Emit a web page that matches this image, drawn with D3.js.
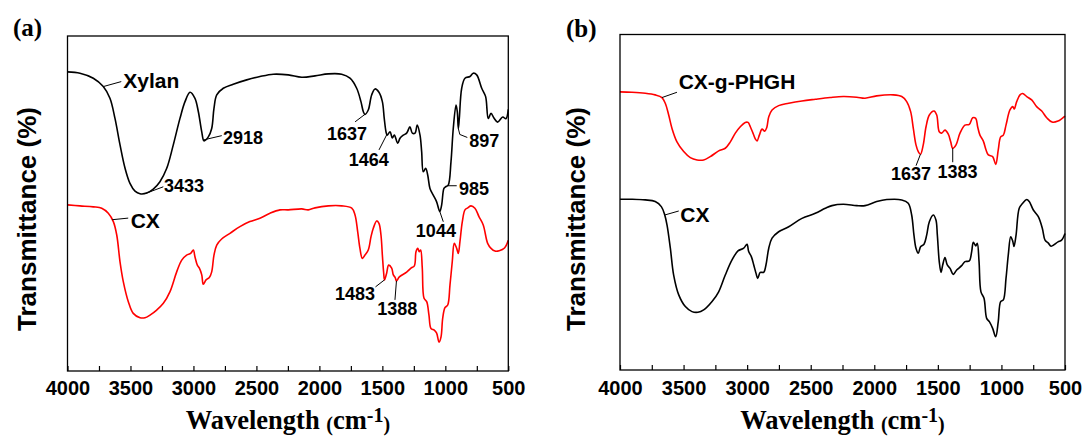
<!DOCTYPE html>
<html>
<head>
<meta charset="utf-8">
<script src="https://cdn.jsdelivr.net/npm/d3@7"></script>
<style>
  html, body { margin: 0; padding: 0; background: #fff; }
  svg { display: block; }
</style>
</head>
<body>
<svg id="chart" width="1085" height="437"></svg>
<script>
// FTIR spectra: [wavenumber (cm-1), transmittance (a.u., offset for stacking)]
const xylanA = [[4000,89.3],[3901,88.9],[3795,87.4],[3716,84.9],[3663,81.4],[3623,75.4],[3583,67.5],[3543,60.5],[3504,56.0],[3464,53.7],[3424,52.9],[3371,53.1],[3319,54.3],[3266,56.5],[3212,60.5],[3160,67.5],[3107,75.4],[3067,80.4],[3027,83.2],[2988,81.4],[2961,77.4],[2934,71.4],[2916,68.7],[2882,69.9],[2855,72.4],[2837,78.4],[2815,82.4],[2763,84.4],[2684,85.6],[2577,86.9],[2472,87.9],[2366,88.6],[2247,88.4],[2140,87.7],[2035,88.1],[1929,88.7],[1823,88.6],[1757,87.4],[1704,84.4],[1670,80.4],[1651,77.4],[1638,76.6],[1612,77.9],[1585,82.4],[1558,84.2],[1527,83.2],[1500,80.4],[1485,75.4],[1471,71.4],[1462,70.4],[1439,71.4],[1421,69.6],[1405,70.4],[1378,68.0],[1360,69.5],[1334,70.4],[1307,71.0],[1281,72.9],[1262,71.0],[1241,71.0],[1223,73.4],[1201,70.4],[1188,65.5],[1175,59.5],[1156,60.5],[1140,58.5],[1122,54.5],[1096,52.5],[1069,50.5],[1044,47.6],[1029,49.6],[1011,54.5],[997,55.0],[977,55.5],[955,62.5],[937,72.4],[915,79.4],[905,77.4],[897,72.4],[889,75.4],[870,84.4],[844,87.4],[804,87.9],[778,88.9],[751,88.4],[711,84.4],[680,81.9],[659,75.4],[637,76.9],[614,75.5],[585,74.3],[544,75.8],[519,75.3],[500,78.1]];

const cxA = [[4000,49.6],[3901,49.3],[3795,49.0],[3728,48.6],[3676,47.1],[3636,44.6],[3609,40.6],[3583,32.6],[3557,26.7],[3517,20.7],[3478,17.2],[3424,15.9],[3385,15.9],[3345,16.7],[3292,18.2],[3239,20.2],[3186,23.7],[3133,29.6],[3093,33.1],[3054,34.6],[3022,35.1],[3001,36.1],[2988,34.1],[2969,31.6],[2953,30.7],[2934,28.7],[2922,25.9],[2900,27.2],[2874,27.9],[2855,29.6],[2837,34.6],[2815,37.6],[2776,39.4],[2710,41.1],[2631,43.1],[2552,44.6],[2472,45.6],[2392,47.1],[2313,48.1],[2247,48.1],[2140,48.4],[2088,48.1],[2035,48.7],[1929,49.3],[1823,49.3],[1743,48.6],[1717,46.6],[1696,41.6],[1678,36.6],[1659,33.6],[1638,34.6],[1612,36.1],[1590,40.1],[1572,42.6],[1545,44.8],[1527,44.1],[1511,40.6],[1500,34.6],[1490,29.5],[1483,27.2],[1466,29.2],[1450,31.6],[1426,30.7],[1413,28.7],[1398,27.9],[1388,26.9],[1365,28.1],[1307,29.5],[1273,30.7],[1246,31.4],[1233,35.6],[1219,36.6],[1207,35.6],[1196,36.1],[1183,30.7],[1169,21.7],[1148,20.7],[1130,16.7],[1114,12.7],[1088,12.2],[1069,11.3],[1050,8.6],[1034,10.2],[1021,15.7],[1003,18.9],[981,19.7],[963,25.7],[945,32.6],[929,38.1],[910,36.6],[897,35.1],[884,38.6],[865,44.6],[844,48.1],[822,48.7],[796,49.3],[765,48.6],[733,46.1],[699,43.6],[664,38.1],[637,36.6],[606,35.8],[572,35.9],[530,36.7],[500,39.0]];

const cxgB = [[4000,82.9],[3906,82.8],[3801,82.5],[3723,82.0],[3670,81.2],[3644,79.5],[3617,76.0],[3591,72.0],[3552,68.0],[3499,65.1],[3447,63.3],[3394,62.6],[3342,62.6],[3290,63.6],[3224,65.3],[3172,66.1],[3132,68.0],[3093,70.6],[3054,72.5],[3015,73.8],[2993,73.8],[2975,72.5],[2954,70.6],[2936,68.9],[2922,68.3],[2904,70.0],[2883,71.8],[2862,71.2],[2846,72.2],[2830,75.5],[2804,77.5],[2752,78.8],[2673,79.5],[2569,80.2],[2464,80.7],[2348,81.2],[2244,81.5],[2138,81.3],[2073,81.0],[1981,81.7],[1850,82.0],[1784,81.5],[1745,80.0],[1714,77.0],[1693,72.0],[1672,67.1],[1654,65.1],[1637,64.3],[1615,67.1],[1593,72.5],[1567,76.0],[1530,77.2],[1509,76.0],[1489,71.0],[1470,70.6],[1444,71.5],[1418,70.3],[1399,68.0],[1383,66.1],[1357,67.1],[1326,70.6],[1287,73.0],[1253,73.2],[1226,75.2],[1202,75.0],[1187,72.5],[1169,70.0],[1143,68.3],[1121,65.6],[1103,64.1],[1069,63.6],[1045,61.3],[1025,65.6],[1006,69.5],[985,70.0],[964,73.0],[933,77.5],[911,78.5],[899,77.8],[880,80.0],[854,82.0],[833,82.4],[801,81.5],[762,80.5],[723,78.5],[683,77.2],[642,75.1],[602,73.9],[555,74.2],[500,75.7]];

const cxB = [[4000,50.9],[3906,50.9],[3801,50.7],[3723,50.2],[3675,48.7],[3648,46.2],[3630,43.2],[3604,36.3],[3578,28.3],[3538,22.4],[3486,18.9],[3434,17.4],[3387,17.2],[3342,17.9],[3276,20.4],[3224,23.3],[3172,28.3],[3119,32.8],[3072,35.5],[3027,36.3],[3001,37.5],[2988,35.3],[2967,33.8],[2948,31.3],[2930,28.8],[2917,27.3],[2897,29.1],[2870,29.1],[2852,31.3],[2830,36.3],[2804,39.3],[2752,41.2],[2673,42.7],[2569,45.2],[2464,46.7],[2385,48.2],[2333,49.0],[2244,49.4],[2138,49.0],[2073,49.0],[1981,50.2],[1902,50.8],[1784,50.7],[1733,49.7],[1706,46.2],[1688,40.2],[1672,36.3],[1654,34.8],[1635,36.8],[1609,37.5],[1588,40.2],[1567,44.2],[1536,46.2],[1515,44.7],[1504,40.2],[1489,32.3],[1475,29.1],[1462,31.3],[1444,33.5],[1426,31.3],[1404,30.3],[1379,28.5],[1352,29.8],[1313,31.1],[1287,32.3],[1253,32.5],[1234,35.3],[1221,38.1],[1202,37.0],[1190,37.8],[1176,32.3],[1161,23.3],[1137,21.4],[1116,15.4],[1095,14.4],[1069,12.4],[1045,9.9],[1025,14.4],[1006,20.4],[985,20.9],[964,27.3],[946,34.3],[927,39.7],[911,38.4],[901,36.8],[885,40.2],[860,48.2],[833,49.7],[801,50.8],[781,50.2],[749,47.7],[710,45.7],[678,42.2],[657,38.7],[631,37.8],[609,36.9],[555,38.2],[527,38.7],[500,40.7]];

// Axis ticks (major ones are labelled)
const wnTicks = [4000, 3750, 3500, 3250, 3000, 2750, 2500, 2250, 2000, 1750, 1500, 1250, 1000, 750, 500];
const wnDomain = [4000, 500];
const tDomain = [0, 100];

// Series names and band assignments (text, series, wavenumber)
const namesA = [["Xylan", "xylan", 3716], ["CX", "cx", 3645]];
const bandsA = [["3433", "xylan", 3433], ["2918", "xylan", 2918], ["1637", "xylan", 1637], ["1464", "xylan", 1464],
                ["1044", "xylan", 1044], ["985", "xylan", 985], ["897", "xylan", 897],
                ["1483", "cx", 1483], ["1388", "cx", 1388]];
const namesB = [["CX-g-PHGH", "cxg", 3670], ["CX", "cx", 3648]];
const bandsB = [["1637", "cxg", 1637], ["1383", "cxg", 1383]];

// Leader-line geometry and text placement for each label (pixel offsets from the curve point)
const leaderStyle = {
  "a:Xylan": { path: [[0,0],[18,-5]], t: [20,1.4], anchor: "start" },
  "a:CX":    { path: [[0,0],[16,-1.6]], t: [18.5,8.4], anchor: "start" },
  "a:3433":  { path: [[6,0.5],[24.4,-6.4]], t: [25,-0.8], anchor: "start" },
  "a:2918":  { path: [[0,0],[18,-4.2]], t: [19.2,4.1], anchor: "start" },
  "a:1637":  { path: [[0,0],[-10,7.6]], t: [-18,25.6], anchor: "middle" },
  "a:1464":  { path: [[0,0],[-7.9,15.5]], t: [-18.2,31.2], anchor: "middle" },
  "a:1044":  { path: [[0,0],[3.5,10.2]], t: [-3.9,25.2], anchor: "middle" },
  "a:985":   { path: [[0,0],[9.5,0]], t: [11.8,9.3], anchor: "start" },
  "a:897":   { path: [[0,0],[1.5,6],[9,9]], t: [11,18.5], anchor: "start" },
  "a:1483":  { path: [[0,0],[-9,7]], t: [-9.5,19.7], anchor: "end" },
  "a:1388":  { path: [[0,0],[-1.5,19]], t: [0.7,34], anchor: "middle" },
  "b:CX-g-PHGH": { path: [[0,0],[15,-5.3]], t: [16.7,-8.6], anchor: "start" },
  "b:CX":    { path: [[0,0],[14,-4]], t: [15.5,7.3], anchor: "start" },
  "b:1637":  { path: [[0,0],[-4.4,11.4]], t: [-9.5,25.7], anchor: "middle" },
  "b:1383":  { path: [[0,0],[0,14]], t: [4.8,29.5], anchor: "middle" }
};

const panels = [
  { id: "a", tag: "(a)", tagX: 13, tagY: 36, left: 67.5, right: 508.3, top: 36, bottom: 371, yTitleX: 36,
    series: { xylan: { data: xylanA, color: "#000000" }, cx: { data: cxA, color: "#ff0000" } },
    names: namesA, bands: bandsA },
  { id: "b", tag: "(b)", tagX: 566, tagY: 37, left: 620, right: 1065, top: 34.5, bottom: 370, yTitleX: 585,
    series: { cxg: { data: cxgB, color: "#ff0000" }, cx: { data: cxB, color: "#000000" } },
    names: namesB, bands: bandsB }
];

const SANS = "'Liberation Sans', Arial, Helvetica, sans-serif";
const SERIF = "'Liberation Serif', 'Times New Roman', Times, serif";

const svg = d3.select("#chart");

// Linear interpolation of a descending-wavenumber series
function valueAt(data, wn) {
  for (let i = 0; i < data.length - 1; i++) {
    const a = data[i], b = data[i + 1];
    if (wn <= a[0] && wn >= b[0]) {
      const t = (a[0] - wn) / (a[0] - b[0]);
      return a[1] + t * (b[1] - a[1]);
    }
  }
  return data[data.length - 1][1];
}

panels.forEach(p => {
  const x = d3.scaleLinear().domain(wnDomain).range([p.left, p.right]);
  const y = d3.scaleLinear().domain(tDomain).range([p.bottom, p.top]);
  const g = svg.append("g");

  // spectra
  const line = d3.line()
    .x(d => x(d[0]))
    .y(d => y(d[1]))
    .curve(d3.curveCatmullRom.alpha(0.5));

  Object.values(p.series).forEach(s => {
    g.append("path")
      .datum(s.data)
      .attr("fill", "none")
      .attr("stroke", s.color)
      .attr("stroke-width", 1.6)
      .attr("stroke-linejoin", "round")
      .attr("d", line);
  });

  // bottom axis with inward ticks
  const axis = d3.axisBottom(x)
    .tickValues(wnTicks)
    .tickSize(-5)
    .tickFormat(d => d % 500 === 0 ? d : "");
  const ax = g.append("g")
    .attr("transform", `translate(0,${p.bottom})`)
    .call(axis);
  ax.select(".domain").remove();
  ax.selectAll(".tick line").attr("stroke", "#000").attr("stroke-width", 1.2);
  ax.selectAll(".tick text")
    .attr("y", 395 - p.bottom)
    .attr("dy", 0)
    .attr("fill", "#000")
    .style("font-family", SANS)
    .style("font-weight", "bold")
    .style("font-size", "20px");

  // frame
  g.append("rect")
    .attr("x", p.left).attr("y", p.top)
    .attr("width", p.right - p.left).attr("height", p.bottom - p.top)
    .attr("fill", "none").attr("stroke", "#000").attr("stroke-width", 1.3);

  // labels with leader lines
  const addLabel = (item, size) => {
    const [text, key, wn] = item;
    const st = leaderStyle[p.id + ":" + text];
    const cx0 = x(wn), cy0 = y(valueAt(p.series[key].data, wn));
    g.append("path")
      .attr("d", d3.line()(st.path.map(([dx, dy]) => [cx0 + dx, cy0 + dy])))
      .attr("fill", "none").attr("stroke", "#000").attr("stroke-width", 1);
    g.append("text")
      .attr("x", cx0 + st.t[0]).attr("y", cy0 + st.t[1])
      .attr("text-anchor", st.anchor)
      .style("font-family", SANS).style("font-weight", "bold").style("font-size", size + "px")
      .attr("fill", "#000")
      .text(text);
  };
  p.names.forEach(n => addLabel(n, 21));
  p.bands.forEach(b => addLabel(b, 18));

  // axis titles
  g.append("text")
    .attr("transform", `translate(${p.yTitleX},219) rotate(-90)`)
    .attr("text-anchor", "middle")
    .style("font-family", SANS).style("font-weight", "bold").style("font-size", "26px")
    .text("Transmittance (%)");

  const xt = g.append("text")
    .attr("x", (p.left + p.right) / 2).attr("y", 429)
    .attr("text-anchor", "middle")
    .style("font-family", SERIF).style("font-weight", "bold");
  xt.append("tspan").style("font-size", "26.5px").text("Wavelength ");
  xt.append("tspan").style("font-size", "20px").attr("dy", 2).text("(");
  xt.append("tspan").style("font-size", "26.5px").attr("dy", -2).text("cm");
  xt.append("tspan").style("font-size", "20px").attr("dy", -7).text("-1");
  xt.append("tspan").style("font-size", "20px").attr("dy", 9).text(")");

  // panel tag
  g.append("text")
    .attr("x", p.tagX).attr("y", p.tagY)
    .style("font-family", SERIF).style("font-weight", "bold").style("font-size", "25px")
    .text(p.tag);
});
</script>
</body>
</html>
